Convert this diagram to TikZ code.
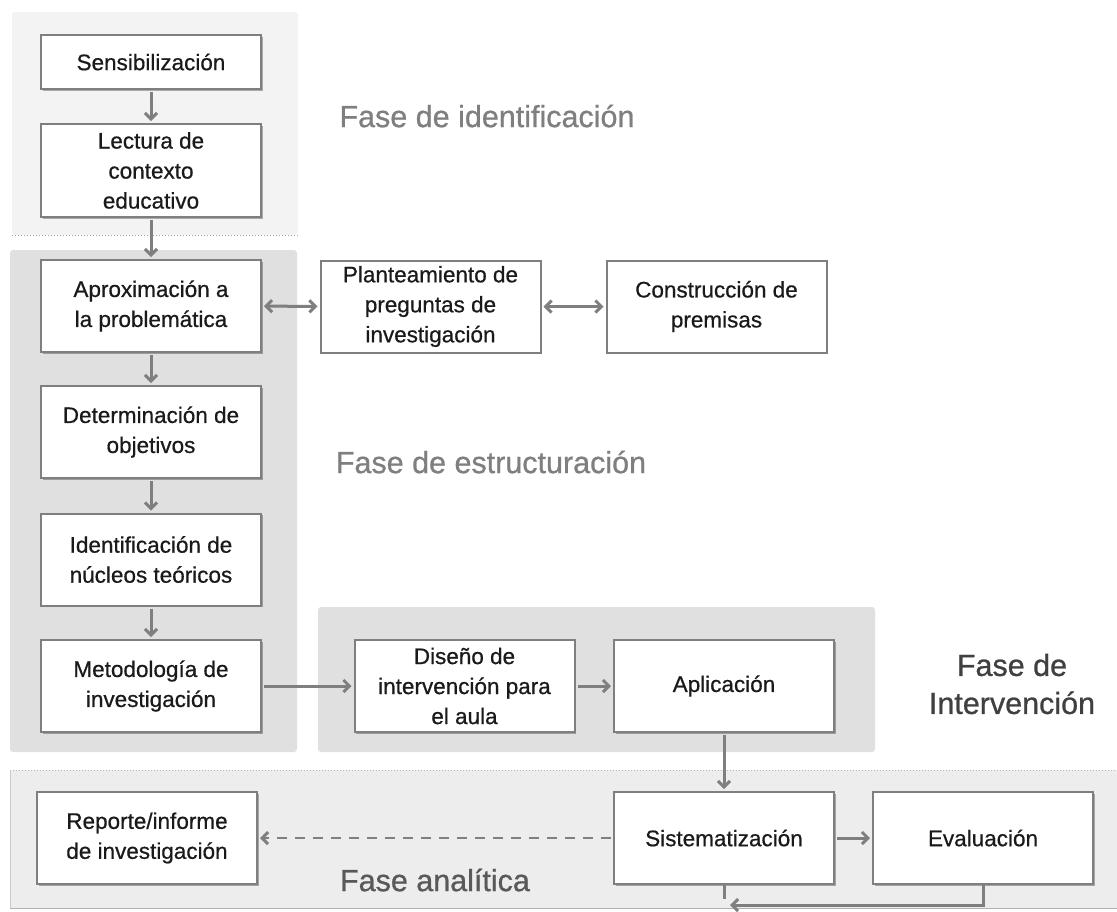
\documentclass[tikz,border=0pt]{standalone}
\usepackage{fontspec}
\setmainfont{Liberation Sans}
\newfontfamily\boxfont[FakeBold=0.6]{Liberation Sans}
\newfontfamily\titlefont[FakeBold=0.8]{Liberation Sans}
\usetikzlibrary{arrows.meta,shadows}
\definecolor{boxline}{HTML}{7F7F7F}
\definecolor{arrowc}{HTML}{7F7F7F}
\definecolor{txt}{HTML}{1A1A1A}
\definecolor{regA}{HTML}{F3F3F3}
\definecolor{regB}{HTML}{E0E0E0}
\definecolor{regD}{HTML}{EDEDED}
\definecolor{titleA}{HTML}{7F7F7F}
\definecolor{titleC}{HTML}{404040}
\definecolor{titleD}{HTML}{595959}
\begin{document}
\begin{tikzpicture}[x=1pt,y=-1pt,
  box/.style={draw=boxline, line width=2pt, fill=white, minimum width=220pt,
    minimum height=92pt, align=center, inner sep=2pt,
    font=\boxfont\fontsize{22.5}{30}\selectfont, text=txt,
    drop shadow={shadow xshift=1.5pt, shadow yshift=-1.5pt, opacity=0.3, fill=black}},
  arr/.style={draw=arrowc, line width=3pt, -{Straight Barb[length=6pt,width=12pt,line width=3pt]},
    shorten >=2pt, shorten <=2pt},
  darr/.style={arr, {Straight Barb[length=6pt,width=12pt,line width=3pt]}-{Straight Barb[length=6pt,width=12pt,line width=3pt]}},
  plain/.style={draw=arrowc, line width=3pt},
  region/.style={rounded corners=3pt},
  phase/.style={font=\titlefont\fontsize{30.5}{38}\selectfont, align=center, inner sep=0pt}
]
\useasboundingbox (0,0) rectangle (1117,911);
% regions
\fill[regA, region] (12,12) rectangle (298,235);
\draw[boxline!70, dotted, line width=1pt] (12,235) -- (298,235);
\fill[regB, region] (10,250) rectangle (297,752);
\fill[regB, region] (318,607) rectangle (875,752);
\fill[regD] (10,770) rectangle (1117,908);
\draw[boxline!60, dotted, line width=1pt] (10,770) -- (1117,770);
\draw[boxline!60, line width=1pt] (10,908) -- (1117,908);
\draw[boxline!40, line width=1pt] (10,770) -- (10,908);

% phase titles
\node[phase, text=titleA] (tA) at (487,116) {Fase de identificación};
\node[phase, text=titleA] (tB) at (491,462) {Fase de estructuración};
\node[phase, text=titleC] (tC) at (1012,684) {Fase de\\Intervención};
\node[phase, text=titleD] (tD) at (435,880) {Fase analítica};

% boxes
\node[box, minimum height=54pt] (sens) at (151,62) {Sensibilización};
\node[box, minimum height=93pt] (lect) at (151,170.5) {Lectura de\\contexto\\educativo};
\node[box] (aprox) at (151,306) {Aproximación a\\la problemática};
\node[box] (plant) at (430.5,306.5) {Planteamiento de\\preguntas de\\investigación};
\node[box] (constr) at (716.5,306.5) {Construcción de\\premisas};
\node[box] (determ) at (151,432) {Determinación de\\objetivos};
\node[box] (ident) at (151,559.5) {Identificación de\\núcleos teóricos};
\node[box] (metod) at (151,686) {Metodología de\\investigación};
\node[box] (diseno) at (464.5,686) {Diseño de\\intervención para\\el aula};
\node[box] (aplic) at (724,686) {Aplicación};
\node[box] (report) at (147,838) {Reporte/informe\\de investigación};
\node[box] (sist) at (724,838) {Sistematización};
\node[box] (eval) at (983,838) {Evaluación};

% connectors
\draw[arr] (sens) -- (lect);
\draw[arr] (lect) -- (aprox);
\draw[darr] (aprox) -- (plant);
\draw[darr] (plant) -- (constr);
\draw[arr] (aprox) -- (determ);
\draw[arr] (determ) -- (ident);
\draw[arr] (ident) -- (metod);
\draw[arr] (metod) -- (diseno);
\draw[arr] (diseno) -- (aplic);
\draw[arr] (aplic) -- (sist);
\draw[arr] (sist) -- (eval);
\draw[arr, dash pattern=on 10pt off 8pt, line width=2.5pt] (sist) -- (report);
\coordinate (loopend) at (728,905);
\draw[arr, shorten <=0pt] (eval.south) |- (loopend);
\coordinate (stubend) at (724,899);
\draw[plain] (sist.south) -- (stubend);
\end{tikzpicture}
\end{document}
